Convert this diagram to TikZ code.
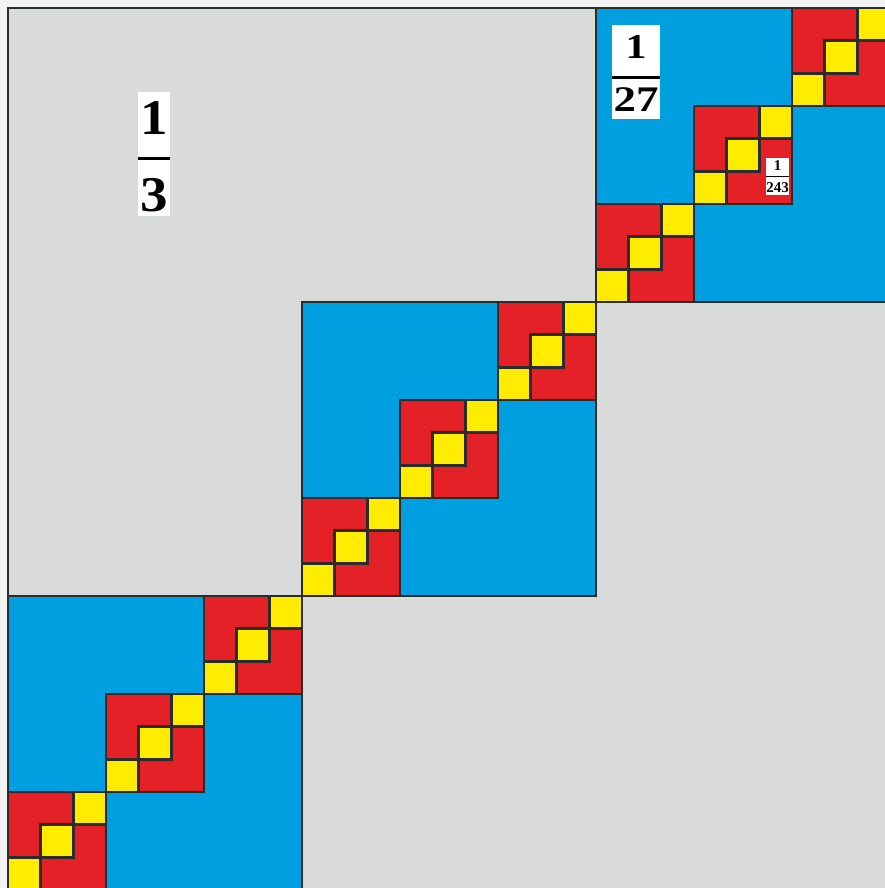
\documentclass[tikz,border=0pt]{standalone}
\usepackage{fontspec}
\setmainfont{Liberation Serif}
\definecolor{bgc}{HTML}{F2F2F2}
\definecolor{grayc}{HTML}{D9DADA}
\definecolor{bluec}{HTML}{009FE0}
\definecolor{redc}{HTML}{E42127}
\definecolor{yelc}{HTML}{FFEC00}
\definecolor{linec}{HTML}{2B2B2B}
\begin{document}
\begin{tikzpicture}[x=1pt,y=-1pt,
  cell/.style={draw=linec,line width=2.8pt},
  digit/.style={anchor=base,inner sep=0pt,text=black},
  fbar/.style={draw=black}]
\useasboundingbox (0,0) rectangle (885,888);
\fill[bgc] (0,0) rectangle (885,888);
\begin{scope}
\clip (0,0) rectangle (885,888);
% level 0
\filldraw[cell,fill=grayc] (8,8) rectangle ++(882,882);
% level 1
\foreach \a in {0,1,2}{
  \pgfmathsetmacro\xa{8+(2-\a)*294}
  \pgfmathsetmacro\ya{8+\a*294}
  \filldraw[cell,fill=bluec] (\xa,\ya) rectangle ++(294,294);
}
% level 2
\foreach \a in {0,1,2}{
  \foreach \b in {0,1,2}{
    \pgfmathsetmacro\xb{8+(2-\a)*294+(2-\b)*98}
    \pgfmathsetmacro\yb{8+\a*294+\b*98}
    \filldraw[cell,fill=redc] (\xb,\yb) rectangle ++(98,98);
  }
}
% level 3
\foreach \a in {0,1,2}{
  \foreach \b in {0,1,2}{
    \foreach \c in {0,1,2}{
      \pgfmathsetmacro\xc{8+(2-\a)*294+(2-\b)*98+(2-\c)*32.6667}
      \pgfmathsetmacro\yc{8+\a*294+\b*98+\c*32.6667}
      \filldraw[cell,fill=yelc] (\xc,\yc) rectangle ++(32.6667,32.6667);
    }
  }
}
\end{scope}
% label 1/3
\fill[white] (138,92) rectangle (170,216);
\draw[fbar,line width=3.4pt] (138,158.5) -- (170,158.5);
\node[digit,font=\fontsize{50}{50}\selectfont\bfseries] (n3) at (154,134.5) {\scalebox{1.1}[1]{1}};
\node[digit,font=\fontsize{50}{50}\selectfont\bfseries] (d3) at (154,211) {\scalebox{1.1}[1]{3}};
% label 1/27
\fill[white] (612,25) rectangle (660,119);
\draw[fbar,line width=3pt] (612,77.5) -- (660,77.5);
\node[digit,font=\fontsize{35}{35}\selectfont\bfseries] (n27) at (636,59) {\scalebox{1.2}[1]{1}};
\node[digit,font=\fontsize{36}{36}\selectfont\bfseries] (d27) at (636,111.7) {\scalebox{1.25}[1]{27}};
% label 1/243
\fill[white] (766,158) rectangle (789,195);
\draw[fbar,line width=1.5pt] (766,176.5) -- (789,176.5);
\node[digit,font=\fontsize{15}{15}\selectfont\bfseries] (n243) at (777.5,170.5) {1};
\node[digit,font=\fontsize{15}{15}\selectfont\bfseries] (d243) at (777.5,192) {243};
\end{tikzpicture}
\end{document}
